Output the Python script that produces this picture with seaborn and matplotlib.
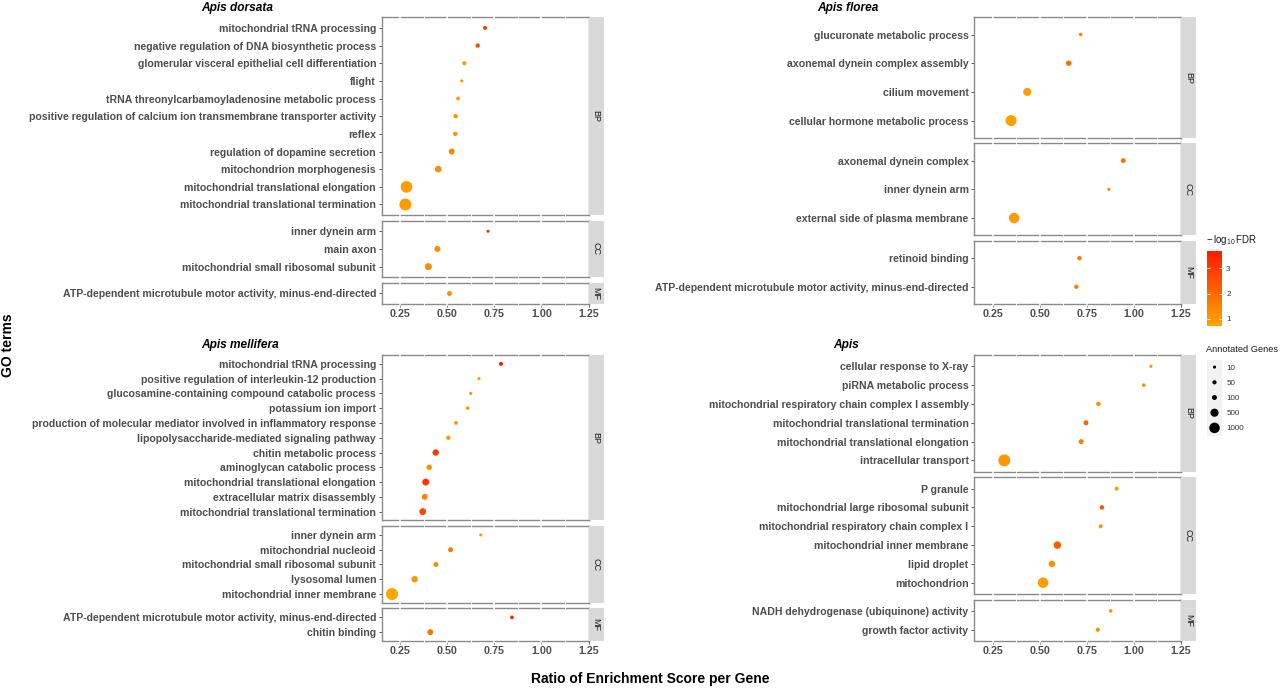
import numpy as np
import pandas as pd
import matplotlib
matplotlib.use("Agg")
import matplotlib.pyplot as plt
import seaborn as sns
from matplotlib.colors import LinearSegmentedColormap, Normalize, FuncNorm
from matplotlib.cm import ScalarMappable
from matplotlib.lines import Line2D

# ---------------------------------------------------------------- data
dorsata_terms = [
    "mitochondrial tRNA processing",
    "negative regulation of DNA biosynthetic process",
    "glomerular visceral epithelial cell differentiation",
    "flight",
    "tRNA threonylcarbamoyladenosine metabolic process",
    "positive regulation of calcium ion transmembrane transporter activity",
    "reflex",
    "regulation of dopamine secretion",
    "mitochondrion morphogenesis",
    "mitochondrial translational elongation",
    "mitochondrial translational termination",
    "inner dynein arm",
    "main axon",
    "mitochondrial small ribosomal subunit",
    "ATP-dependent microtubule motor activity, minus-end-directed",
]
dorsata_ont = ["BP", "BP", "BP", "BP", "BP", "BP", "BP", "BP", "BP", "BP", "BP",
               "CC", "CC", "CC", "MF"]
dorsata_ratio = [0.700, 0.661, 0.590, 0.576, 0.557, 0.544, 0.542, 0.523, 0.451,
                 0.283, 0.277, 0.716, 0.447, 0.399, 0.510]
dorsata_genes = [40, 60, 45, 10, 35, 55, 55, 190, 250, 1300, 1400, 8, 200, 310, 100]
dorsata_fdr = [3.0, 2.6, 0.9, 1.0, 0.85, 1.2, 1.2, 1.4, 1.3, 0.9, 0.9,
               3.4, 1.2, 1.3, 1.2]

florea_terms = [
    "glucuronate metabolic process",
    "axonemal dynein complex assembly",
    "cilium movement",
    "cellular hormone metabolic process",
    "axonemal dynein complex",
    "inner dynein arm",
    "external side of plasma membrane",
    "retinoid binding",
    "ATP-dependent microtubule motor activity, minus-end-directed",
]
florea_ont = ["BP", "BP", "BP", "BP", "CC", "CC", "CC", "MF", "MF"]
florea_ratio = [0.717, 0.653, 0.433, 0.347, 0.943, 0.867, 0.363, 0.710, 0.694]
florea_genes = [22, 140, 470, 1120, 95, 8, 990, 60, 55]
florea_fdr = [1.4, 1.9, 0.9, 0.85, 1.8, 1.8, 0.9, 1.6, 1.6]

mellifera_terms = [
    "mitochondrial tRNA processing",
    "positive regulation of interleukin-12 production",
    "glucosamine-containing compound catabolic process",
    "potassium ion import",
    "production of molecular mediator involved in inflammatory response",
    "lipopolysaccharide-mediated signaling pathway",
    "chitin metabolic process",
    "aminoglycan catabolic process",
    "mitochondrial translational elongation",
    "extracellular matrix disassembly",
    "mitochondrial translational termination",
    "inner dynein arm",
    "mitochondrial nucleoid",
    "mitochondrial small ribosomal subunit",
    "lysosomal lumen",
    "mitochondrial inner membrane",
    "ATP-dependent microtubule motor activity, minus-end-directed",
    "chitin binding",
]
mellifera_ont = ["BP", "BP", "BP", "BP", "BP", "BP", "BP", "BP", "BP", "BP", "BP",
                 "CC", "CC", "CC", "CC", "CC", "MF", "MF"]
mellifera_ratio = [0.785, 0.668, 0.624, 0.608, 0.546, 0.505, 0.438, 0.403, 0.385,
                   0.380, 0.369, 0.677, 0.517, 0.439, 0.326, 0.206, 0.843, 0.409]
mellifera_genes = [40, 12, 14, 22, 35, 55, 240, 140, 310, 190, 300,
                   10, 95, 100, 250, 1400, 25, 180]
mellifera_fdr = [3.69, 1.0, 1.0, 1.0, 0.85, 1.0, 3.0, 1.1, 3.1, 1.4, 2.7,
                 1.0, 1.7, 1.3, 1.0, 0.72, 3.6, 1.8]

apis_terms = [
    "cellular response to X-ray",
    "piRNA metabolic process",
    "mitochondrial respiratory chain complex I assembly",
    "mitochondrial translational termination",
    "mitochondrial translational elongation",
    "intracellular transport",
    "P granule",
    "mitochondrial large ribosomal subunit",
    "mitochondrial respiratory chain complex I",
    "mitochondrial inner membrane",
    "lipid droplet",
    "mitochondrion",
    "NADH dehydrogenase (ubiquinone) activity",
    "growth factor activity",
]
apis_ont = ["BP", "BP", "BP", "BP", "BP", "BP",
            "CC", "CC", "CC", "CC", "CC", "CC", "MF", "MF"]
apis_ratio = [1.090, 1.052, 0.811, 0.745, 0.719, 0.311,
              0.908, 0.830, 0.823, 0.593, 0.564, 0.517, 0.876, 0.808]
apis_genes = [12, 22, 60, 95, 100, 1400, 40, 70, 45, 390, 250, 1000, 25, 45]
apis_fdr = [1.1, 1.2, 1.3, 2.2, 1.5, 1.0, 1.0, 2.4, 1.0, 2.3, 1.2, 0.9, 1.1, 1.3]

species_names = ["Apis dorsata", "Apis florea", "Apis mellifera", "Apis"]
ontologies = ["BP", "CC", "MF"]
x_ticks = [0.25, 0.50, 0.75, 1.00, 1.25]
x_tick_labels = ["0.25", "0.50", "0.75", "1.00", "1.25"]
fdr_ticks = [1, 2, 3]
legend_genes = [10, 50, 100, 500, 1000]
legend_gene_labels = ["10", "50", "100", "500", "1000"]

frames = []
for name, t, o, r, g, f in [
    ("Apis dorsata", dorsata_terms, dorsata_ont, dorsata_ratio, dorsata_genes, dorsata_fdr),
    ("Apis florea", florea_terms, florea_ont, florea_ratio, florea_genes, florea_fdr),
    ("Apis mellifera", mellifera_terms, mellifera_ont, mellifera_ratio, mellifera_genes, mellifera_fdr),
    ("Apis", apis_terms, apis_ont, apis_ratio, apis_genes, apis_fdr),
]:
    frames.append(pd.DataFrame({"species": name, "ont": o, "term": t,
                                "ratio": r, "genes": g, "fdr": f}))
df = pd.concat(frames, ignore_index=True)

# ---------------------------------------------------------------- style
sns.set_theme(style="white")
plt.rcParams["font.family"] = ["Liberation Sans", "DejaVu Sans"]
plt.rcParams["mathtext.fontset"] = "custom"
plt.rcParams["mathtext.rm"] = "Liberation Sans"

W, H = 1280, 689
fig = plt.figure(figsize=(W / 100, H / 100), dpi=100)
fig.patch.set_facecolor("white")


def px_box(x0, y0, x1, y1):
    return [x0 / W, 1 - y1 / H, (x1 - x0) / W, (y1 - y0) / H]


# colour scale (orange -> red)
cmap = LinearSegmentedColormap.from_list("fdr", ["#FFA500", "#FF1A00"])
cnorm = Normalize(0.72, 3.69)

# size scale emulating ggplot's sqrt-area mapping
GENE_LO, GENE_HI = 5.0, 1400.0
A_GG, B_GG = 3.79, 14.2
PT_PER_UNIT = 0.667 * 0.72


def _fwd(x):
    t = np.clip((np.asarray(x, dtype=float) - GENE_LO) / (GENE_HI - GENE_LO), 0, 1)
    return (A_GG + B_GG * np.sqrt(t)) ** 2


def _inv(y):
    r = (np.sqrt(np.asarray(y, dtype=float)) - A_GG) / B_GG
    return GENE_LO + (GENE_HI - GENE_LO) * r ** 2


snorm = FuncNorm((_fwd, _inv), vmin=GENE_LO, vmax=GENE_HI)
SIZES = ((PT_PER_UNIT * A_GG) ** 2, (PT_PER_UNIT * (A_GG + B_GG)) ** 2)

COLS = {"left": (381.5, 588.5), "right": (974.0, 1181.0)}
ROWS = {"top": (17.3, 304.0), "bottom": (355.0, 641.0)}
GAP = 5.6
STRIP = 15.0
layout = {
    "Apis dorsata": ("left", "top", 237, 8),
    "Apis florea": ("right", "top", 848, 8),
    "Apis mellifera": ("left", "bottom", 240, 345),
    "Apis": ("right", "bottom", 846, 345),
}
LABEL_GREY = "#4D4D4D"
BORDER = "#8A8A8A"

for sp in species_names:
    col, row, tx, ty = layout[sp]
    sub = df[df["species"] == sp]
    onts = [o for o in ontologies if (sub["ont"] == o).any()]
    counts = [int((sub["ont"] == o).sum()) for o in onts]
    units = [c + 0.2 for c in counts]
    x0, x1 = COLS[col]
    y0, y1 = ROWS[row]
    per = ((y1 - y0) - GAP * (len(onts) - 1)) / sum(units)
    ytop = y0
    for i, o in enumerate(onts):
        h = units[i] * per
        ax = fig.add_axes(px_box(x0, ytop, x1, ytop + h))
        d = sub[sub["ont"] == o]
        sns.scatterplot(data=d, x="ratio", y="term", hue="fdr", size="genes",
                        palette=cmap, hue_norm=cnorm, sizes=SIZES, size_norm=snorm,
                        linewidth=0, legend=False, ax=ax, zorder=5)
        ax.set_xlim(0.15, 1.25)
        ax.set_ylim(counts[i] - 1 + 0.6, -0.6)
        ax.set_xlabel("")
        ax.set_ylabel("")
        ax.set_facecolor("white")
        for s in ax.spines.values():
            s.set_color(BORDER)
            s.set_linewidth(1.0)
        # white grid lines cutting through the border, as in ggplot
        e = 1.6 / h
        for v in [0.25, 0.375, 0.5, 0.625, 0.75, 0.875, 1.0, 1.125]:
            major = v in x_ticks
            ax.add_line(Line2D([v, v], [-e, 1 + e], color="white",
                               lw=1.1 if major else 0.6, zorder=3, clip_on=False,
                               transform=ax.get_xaxis_transform()))
        ax.set_yticks(range(counts[i]), labels=list(d["term"]), fontsize=7.6,
                      fontweight="bold", color=LABEL_GREY)
        ax.tick_params(axis="y", length=2.4, width=0.7, color="#555555", pad=1.5,
                       left=True)
        ax.set_xticks(x_ticks)
        if i == len(onts) - 1:
            ax.set_xticklabels(x_tick_labels, fontsize=7.7, fontweight="bold",
                               color=LABEL_GREY)
            ax.tick_params(axis="x", length=2.4, width=0.7, color="#555555",
                           pad=1.5, bottom=True)
        else:
            ax.set_xticklabels([])
            ax.tick_params(axis="x", length=0)
        # facet strip
        sax = fig.add_axes(px_box(x1, ytop, x1 + STRIP, ytop + h))
        sax.set_facecolor("#D9D9D9")
        sax.set_xticks([])
        sax.set_yticks([])
        for s in sax.spines.values():
            s.set_visible(False)
        sax.text(0.5, 0.5, o, rotation=270, ha="center", va="center",
                 fontsize=6.5, color="#1A1A1A", transform=sax.transAxes)
        ytop += h + GAP
    fig.text(tx / W, 1 - ty / H, sp, ha="center", va="center", fontsize=8.6,
             fontweight="bold", fontstyle="italic", color="black")

# axis titles
fig.text(8 / W, 1 - 345 / H, "GO terms", rotation=90, ha="center", va="center",
         fontsize=10, fontweight="bold", color="black")
fig.text(650 / W, 1 - 679 / H, "Ratio of Enrichment Score per Gene", ha="center",
         va="center", fontsize=10, fontweight="bold", color="black")

# colour legend
fig.text(1206 / W, 1 - 240 / H, r"$-\,\log_{10}$FDR", ha="left", va="center",
         fontsize=7, color="#1A1A1A")
cax = fig.add_axes(px_box(1207, 251, 1222, 326))
cb = fig.colorbar(ScalarMappable(norm=cnorm, cmap=cmap), cax=cax)
cb.outline.set_visible(False)
cb.set_ticks(fdr_ticks)
cb.set_ticklabels([str(v) for v in fdr_ticks])
cax.tick_params(length=0, labelsize=5.8, colors="#333333", pad=3)
for v in fdr_ticks:
    cax.plot([0, 0.2], [v, v], color="white", lw=0.6, transform=cax.get_yaxis_transform())
    cax.plot([0.8, 1.0], [v, v], color="white", lw=0.6, transform=cax.get_yaxis_transform())

# size legend
fig.text(1206 / W, 1 - 350 / H, "Annotated Genes", ha="left", va="center",
         fontsize=6.7, color="#1A1A1A")
lax = fig.add_axes(px_box(1207, 359.5, 1222, 435.5))
leg_df = pd.DataFrame({"x": [0.0] * len(legend_genes),
                       "y": legend_gene_labels, "genes": legend_genes})
sns.scatterplot(data=leg_df, x="x", y="y", size="genes", sizes=SIZES,
                size_norm=snorm, color="black", linewidth=0, legend=False, ax=lax)
lax.set_xlim(-1, 1)
lax.set_ylim(len(legend_genes) - 0.5, -0.5)
lax.set_facecolor("#F2F2F2")
for s in lax.spines.values():
    s.set_visible(False)
lax.set_xticks([])
lax.set_xlabel("")
lax.set_ylabel("")
lax.yaxis.tick_right()
lax.set_yticks(range(len(legend_genes)), labels=legend_gene_labels, fontsize=5.8,
               color="#333333")
lax.tick_params(axis="y", length=0, pad=3, right=True, left=False)

fig.savefig("out.png", dpi=100, facecolor="white")
